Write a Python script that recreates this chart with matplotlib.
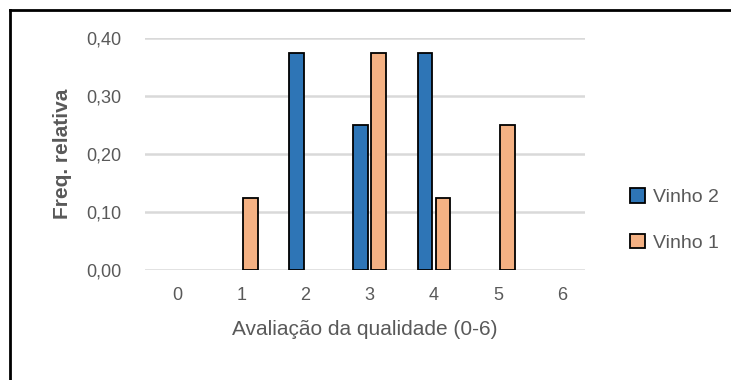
import numpy as np
import matplotlib.pyplot as plt
from matplotlib.lines import Line2D
from matplotlib.patches import Patch

plt.rcParams['font.family'] = ['Liberation Sans', 'DejaVu Sans']

# data
scores = [0, 1, 2, 3, 4, 5, 6]
vinho2 = [0, 0, 0.375, 0.25, 0.375, 0, 0]
vinho1 = [0, 0.125, 0, 0.375, 0.125, 0.25, 0]
yticks = [0.0, 0.1, 0.2, 0.3, 0.4]
ytick_labels = ["0,00", "0,10", "0,20", "0,30", "0,40"]

blue = "#2e75b6"
orange = "#f4b183"
grey = "#595959"

fig = plt.figure(figsize=(7.31, 3.80), dpi=100)
ax = fig.add_axes([145/731, 1 - 270/380, 440/731, 232/380])

x = np.arange(len(scores))
w = 0.23
off = 0.14
# no outline on empty (zero) bars, like Excel
lw2 = [1.3 if v > 0 else 0 for v in vinho2]
lw1 = [1.3 if v > 0 else 0 for v in vinho1]
ax.bar(x - off, vinho2, w, color=blue, edgecolor="black", linewidth=lw2, zorder=3)
ax.bar(x + off, vinho1, w, color=orange, edgecolor="black", linewidth=lw1, zorder=3)

ax.set_xlim(-0.5, 6.35)
ax.set_ylim(0, 0.40)
ax.set_yticks(yticks)
ax.set_yticklabels(ytick_labels)
ax.set_xticks(x)
ax.set_xticklabels([str(s) for s in scores])
ax.yaxis.grid(True, color="#d9d9d9", linewidth=1.8, zorder=0)
ax.set_axisbelow(True)
for s in ax.spines.values():
    s.set_visible(False)
ax.tick_params(length=0, colors=grey, labelsize=13)
ax.tick_params(axis="y", pad=17)
ax.tick_params(axis="x", pad=12)

ax.set_xlabel("Avaliação da qualidade (0-6)", fontsize=15, color=grey, labelpad=12)
ax.set_ylabel("Freq. relativa", fontsize=15, color=grey, fontweight="bold", labelpad=10)

handles = [Patch(facecolor=blue, edgecolor="black", linewidth=1.3),
           Patch(facecolor=orange, edgecolor="black", linewidth=1.3)]
fig.legend(handles, ["Vinho 2", "Vinho 1"], loc="center left",
           bbox_to_anchor=(612/731, 1 - 220/380), frameon=False,
           fontsize=14, labelcolor=grey, handlelength=0.8, handleheight=0.8,
           handletextpad=0.4, labelspacing=1.4)

# outer border (top and left visible)
fig.add_artist(Line2D([10/731, 1], [1 - 10/380, 1 - 10/380], color="black", linewidth=2))
fig.add_artist(Line2D([10/731, 10/731], [0, 1 - 10/380], color="black", linewidth=2))

fig.savefig("out.png", dpi=100)
